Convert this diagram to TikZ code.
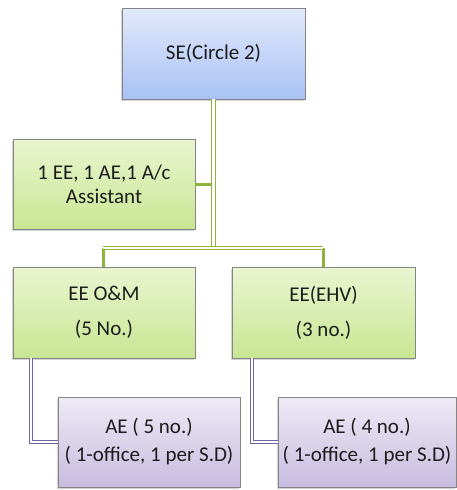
\documentclass[tikz,border=0pt]{standalone}
\usepackage{fontspec}
\setmainfont{Carlito}
\usetikzlibrary{shadows}
\definecolor{txt}{HTML}{1C1C1C}
\definecolor{boxline}{HTML}{858585}
\definecolor{blueTop}{HTML}{E2E9FB}
\definecolor{blueBot}{HTML}{A8C2F4}
\definecolor{greenTop}{HTML}{EAF5D0}
\definecolor{greenBot}{HTML}{C8E693}
\definecolor{purpleTop}{HTML}{EEEAF5}
\definecolor{purpleBot}{HTML}{C8BCE0}
\definecolor{greenLink}{HTML}{8CB43C}
\definecolor{purpleLink}{HTML}{7262A8}
\tikzset{
  orgbox/.style={draw=boxline, line width=0.9pt, rectangle, align=center,
    text=txt, font=\fontsize{21}{25}\selectfont, inner sep=0pt,
    drop shadow={shadow xshift=-1pt, shadow yshift=-2pt, opacity=0.35, fill=gray}},
  bluebox/.style={orgbox, top color=blueTop, bottom color=blueBot},
  greenbox/.style={orgbox, top color=greenTop, bottom color=greenBot},
  purplebox/.style={orgbox, top color=purpleTop, bottom color=purpleBot},
  trunk/.style={draw=greenLink, line width=0.9pt, double=white, double distance=2.4pt},
  stub/.style={draw=greenLink, line width=3pt},
  ptrunk/.style={draw=purpleLink, line width=0.9pt, double=white, double distance=2.4pt},
  pstub/.style={draw=purpleLink, line width=3pt},
}
\begin{document}
\begin{tikzpicture}[x=1pt, y=-1pt]
\useasboundingbox (0,0) rectangle (456,490);

% boxes
\node[bluebox, minimum width=183pt, minimum height=91pt] (se) at (213.5,53.5) {SE(Circle 2)};
\node[greenbox, minimum width=182pt, minimum height=90pt] (staff) at (104,184) {1 EE, 1 AE,1 A/c\\[-1pt]Assistant};
\node[greenbox, minimum width=182pt, minimum height=91pt] (eeom) at (104,312.5) {EE O\&M\\[10pt](5 No.)};
\node[greenbox, minimum width=183pt, minimum height=91pt] (eehv) at (323.5,312.5) {EE(EHV)\\[10pt](3 no.)};
\node[purplebox, minimum width=182pt, minimum height=90pt] (aeA) at (149,442) {AE ( 5 no.)\\[3pt]( 1-office, 1 per S.D)};
\node[purplebox, minimum width=178pt, minimum height=90pt] (aeB) at (367,442) {AE ( 4 no.)\\[3pt]( 1-office, 1 per S.D)};

% bus points
\coordinate (busM) at (213.5,248);
\coordinate (busL) at (103,248);
\coordinate (busR) at (323,248);
\coordinate (elbowA) at (31,442);
\coordinate (elbowB) at (252,442);

% connectors
\draw[stub] (staff.east) -- (staff.east -| busM);
\draw[stub] (busL) -- (eeom.north -| busL);
\draw[stub] (busR) -- (eehv.north -| busR);
\draw[trunk] (se.south) -- (busM);
\draw[trunk] (busL) -- (busR);
\draw[ptrunk] (eeom.south -| elbowA) -- (elbowA) -- (aeA.west);
\draw[ptrunk] (eehv.south -| elbowB) -- (elbowB) -- (aeB.west);
\end{tikzpicture}
\end{document}
